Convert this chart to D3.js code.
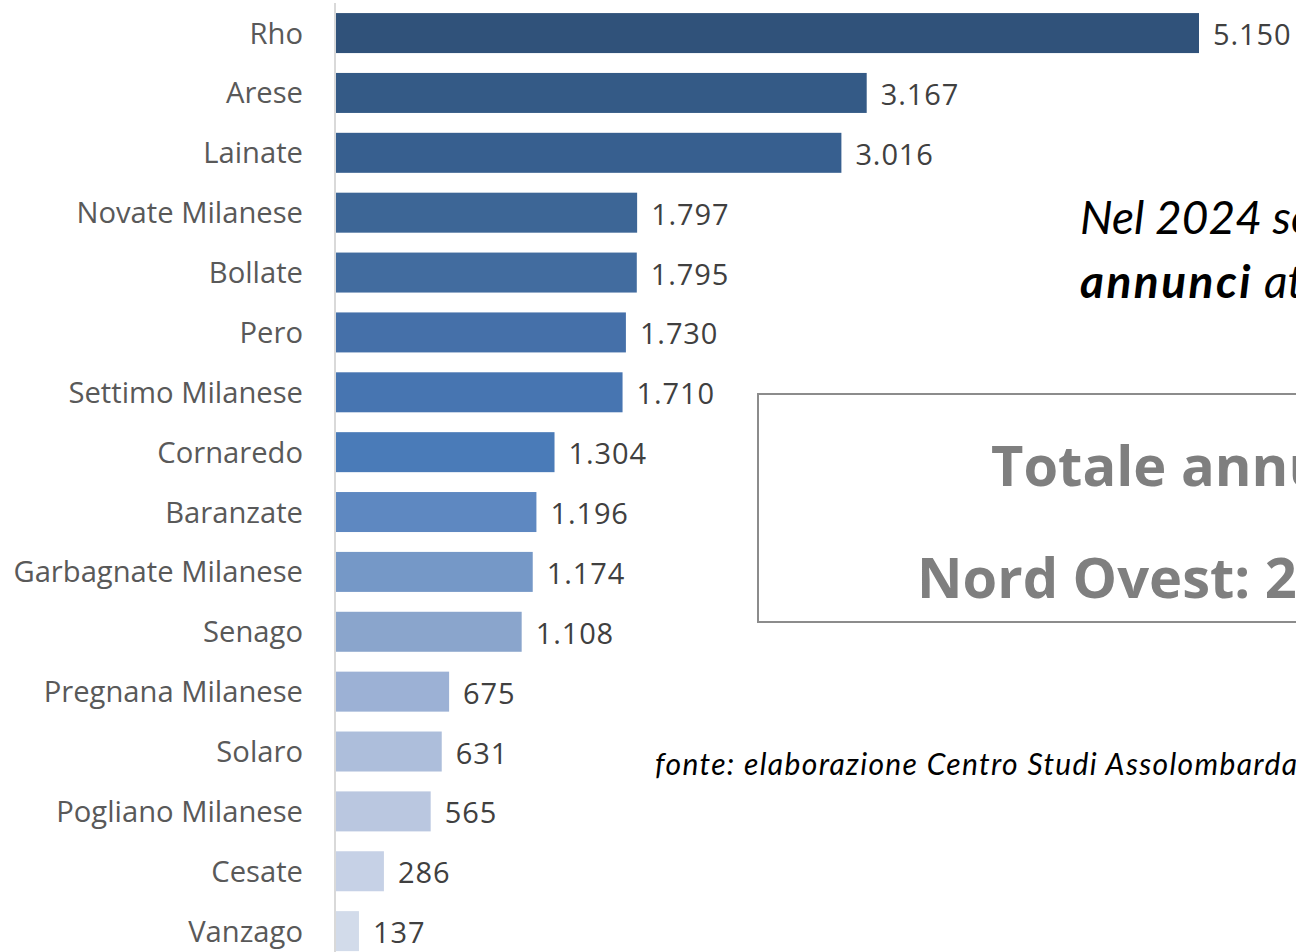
<!DOCTYPE html>
<html><head><meta charset="utf-8">
<script src="https://cdn.jsdelivr.net/npm/d3@7/dist/d3.min.js"></script>
<style>html,body{margin:0;padding:0;background:#fff;overflow:hidden}</style>
</head><body><svg id="chart" width="1296" height="952"></svg>
<script>
const categories = ["Rho","Arese","Lainate","Novate Milanese","Bollate","Pero","Settimo Milanese","Cornaredo","Baranzate","Garbagnate Milanese","Senago","Pregnana Milanese","Solaro","Pogliano Milanese","Cesate","Vanzago"];
const values = [5150,3167,3016,1797,1795,1730,1710,1304,1196,1174,1108,675,631,565,286,137];
const colors = ["#30527a","#345a86","#375f8f","#3d6696","#426c9f","#4570a9","#4775b1","#4a7bb8","#5e88c1","#7598c7","#8aa5cc","#9cb1d5","#adbedb","#bac7e0","#c6d1e6","#d2dbea"];

const svg = d3.select("#chart");
const x0 = 336;
const x = d3.scaleLinear().domain([0, 5150]).range([x0, 1199]);
const y = d3.scaleBand().domain(categories).range([-6.8, 971]).padding(0.332);

const loc = d3.formatLocale({decimal: ",", thousands: ".", grouping: [3], currency: ["€", ""]});
const fmt = loc.format(",d");

// bars
svg.append("g").selectAll("rect").data(categories).join("rect")
  .attr("x", x(0)).attr("y", d => y(d))
  .attr("width", (d,i) => x(values[i]) - x(0))
  .attr("height", y.bandwidth())
  .attr("fill", (d,i) => colors[i]);

// axis line
svg.append("line").attr("x1", 335).attr("x2", 335).attr("y1", 3).attr("y2", 952)
  .attr("stroke", "#d9d9d9").attr("stroke-width", 2);

// category labels
svg.append("g").selectAll("text").data(categories).join("text")
  .attr("x", 303).attr("y", d => y(d) + y.bandwidth()/2 + 10.5)
  .attr("text-anchor", "end")
  .attr("font-family", "Open Sans").attr("font-size", 29.2).attr("fill", "#595959")
  .text(d => d);

// value labels
svg.append("g").selectAll("text").data(categories).join("text")
  .attr("x", (d,i) => x(values[i]) + 14).attr("y", d => y(d) + y.bandwidth()/2 + 12)
  .attr("font-family", "Open Sans").attr("font-size", 29).attr("fill", "#404040")
  .attr("letter-spacing", 0.9)
  .text((d,i) => fmt(values[i]));

// annotation text
const t1 = svg.append("text").attr("x", 1080).attr("y", 234)
  .attr("font-family", "Lato").attr("font-style", "italic").attr("font-size", 46).attr("fill", "#000");
t1.text("Nel 2024 sono stati pubblicati");
const t2 = svg.append("text").attr("x", 1080).attr("y", 298)
  .attr("font-family", "Lato").attr("font-style", "italic").attr("font-size", 46).attr("fill", "#000");
t2.append("tspan").attr("font-weight", "bold").attr("letter-spacing", 2.5).text("annunci");
t2.append("tspan").text(" attivi");

// box
svg.append("rect").attr("x", 758).attr("y", 394).attr("width", 700).attr("height", 228)
  .attr("fill", "none").attr("stroke", "#8c8c8c").attr("stroke-width", 2);
svg.append("text").attr("x", 991).attr("y", 486)
  .attr("font-family", "Open Sans").attr("font-weight", "bold").attr("font-size", 56).attr("fill", "#7f7f7f")
  .text("Totale annunci");
svg.append("text").attr("x", 917).attr("y", 598)
  .attr("font-family", "Open Sans").attr("font-weight", "bold").attr("font-size", 56).attr("fill", "#7f7f7f")
  .text("Nord Ovest: " + fmt(d3.sum(values)));

// source
svg.append("text").attr("x", 655).attr("y", 775)
  .attr("font-family", "Lato").attr("font-style", "italic").attr("font-size", 30).attr("fill", "#000")
  .attr("letter-spacing", 1.35)
  .text("fonte: elaborazione Centro Studi Assolombarda");
</script></body></html>
